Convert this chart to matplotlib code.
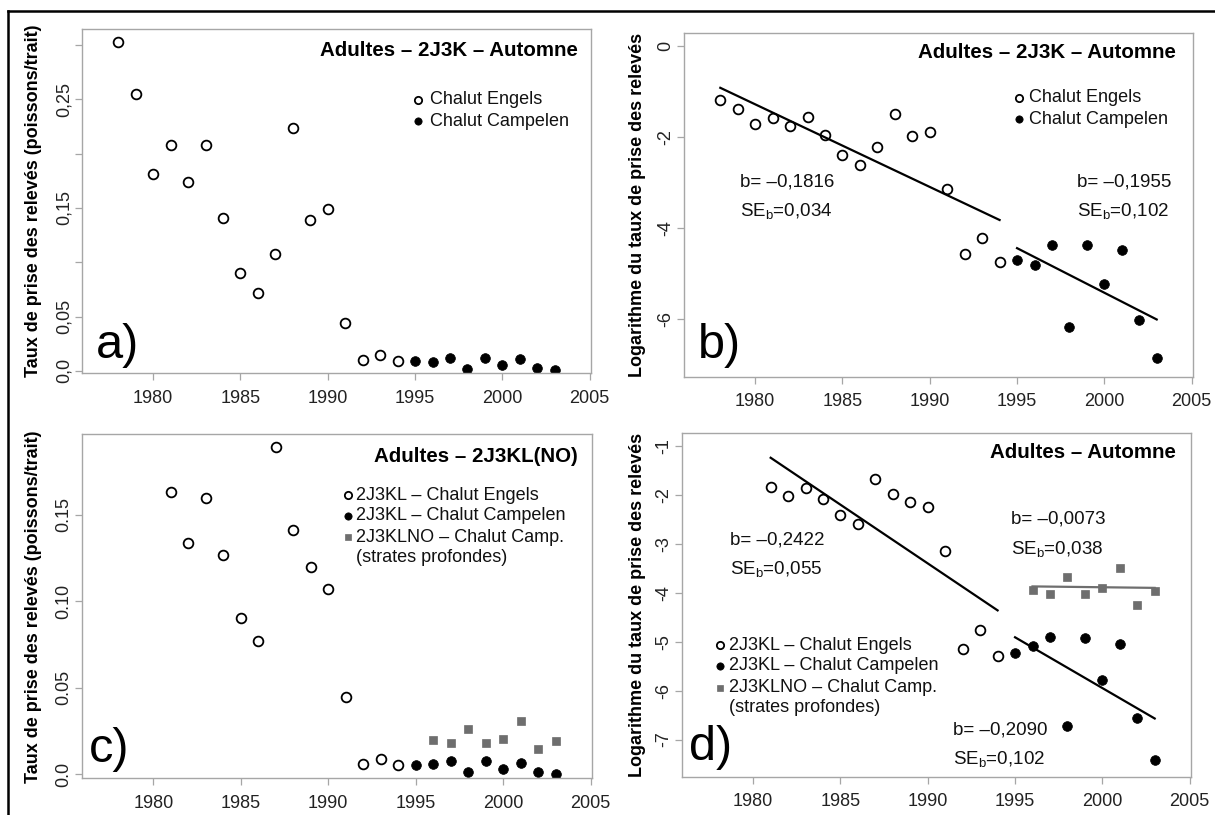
import matplotlib
matplotlib.use('Agg')
import matplotlib.pyplot as plt
from matplotlib.lines import Line2D

plt.rcParams['font.family'] = ['Liberation Sans', 'DejaVu Sans']
plt.rcParams['mathtext.fontset'] = 'custom'
plt.rcParams['mathtext.rm'] = 'Liberation Sans'
plt.rcParams['mathtext.it'] = 'Liberation Sans:italic'
plt.rcParams['mathtext.bf'] = 'Liberation Sans:bold'

# ---------------- data ----------------
years_engels_2j3k = list(range(1978, 1995))
years_camp = list(range(1995, 2004))
years_engels_2j3kl = list(range(1981, 1995))
years_deep = list(range(1996, 2004))

# a) 2J3K autumn catch rate (fish/tow)
rate_a_engels = [0.303, 0.255, 0.181, 0.208, 0.174, 0.208, 0.141, 0.090, 0.072,
                 0.108, 0.224, 0.139, 0.149, 0.044, 0.010, 0.015, 0.009]
rate_a_camp = [0.009, 0.008, 0.012, 0.002, 0.012, 0.005, 0.011, 0.0025, 0.0005]

# b) log of catch rate, 2J3K autumn
log_b_engels = [-1.19, -1.38, -1.71, -1.58, -1.76, -1.57, -1.95, -2.41, -2.63,
                -2.22, -1.49, -1.98, -1.90, -3.14, -4.58, -4.22, -4.75]
log_b_camp = [-4.70, -4.82, -4.37, -6.18, -4.38, -5.23, -4.50, -6.04, -6.87]
fit_b_engels = [-0.92, -3.83]   # fitted line at 1978 and 1994
fit_b_camp = [-4.45, -6.02]     # fitted line at 1995 and 2003
fit_b_engels_years = [1978, 1994]
fit_b_camp_years = [1995, 2003]

# c) 2J3KL(NO) catch rate
rate_c_engels = [0.163, 0.134, 0.160, 0.127, 0.0905, 0.077, 0.1895, 0.1415, 0.120,
                 0.107, 0.0445, 0.006, 0.0087, 0.0052]
rate_c_camp = [0.0054, 0.0062, 0.0075, 0.0012, 0.0075, 0.0031, 0.0067, 0.0015, 0.0002]
rate_c_deep = [0.0199, 0.0179, 0.0262, 0.0179, 0.0204, 0.0309, 0.0147, 0.0193]

# d) log of catch rate, autumn
log_d_engels = [-1.84, -2.03, -1.85, -2.09, -2.42, -2.59, -1.68, -1.98, -2.15,
                -2.24, -3.14, -5.14, -4.77, -5.29]
log_d_camp = [-5.24, -5.08, -4.91, -6.72, -4.93, -5.78, -5.05, -6.57, -7.41]
log_d_deep = [-3.94, -4.03, -3.67, -4.02, -3.91, -3.49, -4.24, -3.96]
fit_d_engels_years = [1981, 1994]
fit_d_engels = [-1.24, -4.36]
fit_d_camp_years = [1995, 2003]
fit_d_camp = [-4.91, -6.57]
fit_d_deep_years = [1996, 2003]
fit_d_deep = [-3.87, -3.90]

x_ticks = [1980, 1985, 1990, 1995, 2000, 2005]

# ---------------- figure ----------------
W, H = 1215, 815
fig = plt.figure(figsize=(W / 100, H / 100), dpi=100)
fig.patch.set_facecolor('white')

def P(x, y):
    return (x / W, 1 - y / H)

def add_ax(x0, x1, y0, y1):
    ax = fig.add_axes([x0 / W, 1 - y1 / H, (x1 - x0) / W, (y1 - y0) / H])
    ax.set_xlim(1975.92, 2005.08)
    ax.set_xticks(x_ticks)
    ax.set_xticklabels([str(t) for t in x_ticks])
    for s in ax.spines.values():
        s.set_color('#a6a6a6')
        s.set_linewidth(1.0)
    ax.tick_params(axis='both', direction='out', length=5, width=0.9, color='#a6a6a6',
                   labelcolor='#222222', labelsize=13)
    ax.tick_params(axis='x', pad=7)
    ax.tick_params(axis='y', pad=2)
    return ax

GRAY = '#6e6e6e'
open_kw = dict(linestyle='none', marker='o', markersize=7.0, mfc='white', mec='black', mew=1.3)
fill_kw = dict(linestyle='none', marker='o', markersize=7.0, mfc='black', mec='black', mew=0.5)
sq_kw = dict(linestyle='none', marker='s', markersize=6.3, mfc=GRAY, mec=GRAY, mew=0.5)

def ylab(ax, text, xpix, axleft):
    w = ax.get_position().width * W
    ax.set_ylabel(text, fontsize=13, fontweight='bold', va='center')
    ax.yaxis.set_label_coords((xpix - axleft) / w, 0.5)

def yticks(ax, ticks, labels):
    ax.set_yticks(ticks)
    ax.set_yticklabels(labels, rotation=90, va='center')

def legend(entries, mx, tx, ys):
    for (kw, label), y in zip(entries, ys):
        if kw is not None:
            fig.add_artist(Line2D([mx / W], [1 - y / H], transform=fig.transFigure,
                                  **dict(kw, markersize=kw['markersize'] * 0.75)))
        fig.text(*P(tx, y), label, fontsize=13, ha='left', va='center', color='#111111')

def txt(x, y, s, **kw):
    fig.text(*P(x, y), s, fontsize=13.5, ha='left', va='center', color='#111111', **kw)

TITLE_FS = 14.8

# ---- a) ----
ax = add_ax(82, 591, 29.3, 373)
ax.set_ylim(-0.002, 0.3145)
ax.plot(years_engels_2j3k, rate_a_engels, **open_kw)
ax.plot(years_camp, rate_a_camp, **fill_kw)
yt = [0.0, 0.05, 0.10, 0.15, 0.20, 0.25, 0.30]
yticks(ax, yt, ['0,0', '0,05', '', '0,15', '', '0,25', ''])
ylab(ax, 'Taux de prise des relevés (poissons/trait)', 33, 82)
fig.text(*P(578, 51), 'Adultes – 2J3K – Automne', fontsize=TITLE_FS, fontweight='bold',
         ha='right', va='center')
legend([(open_kw, 'Chalut Engels'), (fill_kw, 'Chalut Campelen')], 418, 430, [100, 121])
fig.text(*P(96, 345), 'a)', fontsize=35, ha='left', va='center')

# ---- b) ----
ax = add_ax(684, 1193, 33.3, 376.7)
ax.set_ylim(-7.28, 0.28)
ax.plot(years_engels_2j3k, log_b_engels, **open_kw)
ax.plot(years_camp, log_b_camp, **fill_kw)
ax.plot(fit_b_engels_years, fit_b_engels, color='black', lw=1.6)
ax.plot(fit_b_camp_years, fit_b_camp, color='black', lw=1.6)
yticks(ax, [0, -2, -4, -6], ['0', '-2', '-4', '-6'])
ylab(ax, 'Logarithme du taux de prise des relevés', 638, 684)
fig.text(*P(1176, 52), 'Adultes – 2J3K – Automne', fontsize=TITLE_FS, fontweight='bold',
         ha='right', va='center')
legend([(open_kw, 'Chalut Engels'), (fill_kw, 'Chalut Campelen')], 1019, 1029, [98, 119])
txt(740, 182, 'b= –0,1816')
txt(740, 211, r'SE$_\mathrm{b}$=0,034')
txt(1077, 182, 'b= –0,1955')
txt(1077, 211, r'SE$_\mathrm{b}$=0,102')
fig.text(*P(698, 345), 'b)', fontsize=35, ha='left', va='center')

# ---- c) ----
ax = add_ax(82, 592, 434.3, 778.3)
ax.set_ylim(-0.0023, 0.1966)
ax.plot(years_engels_2j3kl, rate_c_engels, **open_kw)
ax.plot(years_camp, rate_c_camp, **fill_kw)
ax.plot(years_deep, rate_c_deep, **sq_kw)
yticks(ax, [0.0, 0.05, 0.10, 0.15], ['0.0', '0.05', '0.10', '0.15'])
ylab(ax, 'Taux de prise des relevés (poissons/trait)', 33, 82)
fig.text(*P(578, 456), 'Adultes – 2J3KL(NO)', fontsize=TITLE_FS, fontweight='bold',
         ha='right', va='center')
legend([(open_kw, '2J3KL – Chalut Engels'), (fill_kw, '2J3KL – Chalut Campelen'),
        (sq_kw, '2J3KLNO – Chalut Camp.'), (None, '(strates profondes)')],
       348, 356, [495, 516, 537, 558])
fig.text(*P(89, 750), 'c)', fontsize=35, ha='left', va='center')

# ---- d) ----
ax = add_ax(682, 1191, 433.3, 776.7)
ax.set_ylim(-7.76, -0.74)
ax.plot(years_engels_2j3kl, log_d_engels, **open_kw)
ax.plot(years_camp, log_d_camp, **fill_kw)
ax.plot(years_deep, log_d_deep, **sq_kw)
ax.plot(fit_d_engels_years, fit_d_engels, color='black', lw=1.6)
ax.plot(fit_d_camp_years, fit_d_camp, color='black', lw=1.6)
ax.plot(fit_d_deep_years, fit_d_deep, color=GRAY, lw=1.6)
yticks(ax, [-1, -2, -3, -4, -5, -6, -7], ['-1', '-2', '-3', '-4', '-5', '-6', '-7'])
ylab(ax, 'Logarithme du taux de prise des relevés', 638, 682)
fig.text(*P(1176, 453), 'Adultes – Automne', fontsize=TITLE_FS, fontweight='bold',
         ha='right', va='center')
legend([(open_kw, '2J3KL – Chalut Engels'), (fill_kw, '2J3KL – Chalut Campelen'),
        (sq_kw, '2J3KLNO – Chalut Camp.'), (None, '(strates profondes)')],
       720, 729, [645, 666, 688, 708])
txt(730, 540, 'b= –0,2422')
txt(730, 569, r'SE$_\mathrm{b}$=0,055')
txt(1011, 519, 'b= –0,0073')
txt(1011, 549, r'SE$_\mathrm{b}$=0,038')
txt(953, 730, 'b= –0,2090')
txt(953, 759, r'SE$_\mathrm{b}$=0,102')
fig.text(*P(689, 748), 'd)', fontsize=35, ha='left', va='center')

# outer frame (left and top edges)
fig.add_artist(Line2D([8 / W, 8 / W], [0, 1 - 11 / H], color='black', lw=1.8,
                      transform=fig.transFigure))
fig.add_artist(Line2D([8 / W, 1], [1 - 11 / H, 1 - 11 / H], color='black', lw=1.8,
                      transform=fig.transFigure))

fig.savefig('out.png', dpi=100)
